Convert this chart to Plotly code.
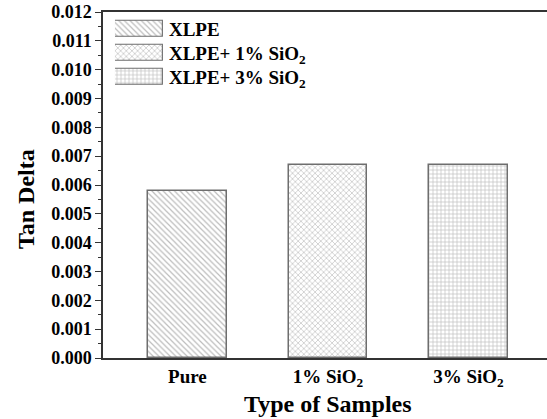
import plotly.graph_objects as go

# Dielectric loss (tan delta) of each sample type
categories = ["Pure", "1% SiO<sub>2</sub>", "3% SiO<sub>2</sub>"]
tan_delta = [0.0058, 0.0067, 0.0067]
legend_labels = ["XLPE", "XLPE+ 1% SiO<sub>2</sub>", "XLPE+ 3% SiO<sub>2</sub>"]
y_ticks = [i / 1000 for i in range(0, 13)]
y_ticklabels = [f"{v:.3f}" for v in y_ticks]

patterns = ["\\", "x", "+"]
pattern_sizes = [4, 4, 4]

SERIF = "Liberation Serif, Times New Roman, serif"
LINE = "#333333"
EDGE = "#6e6e6e"
HATCH = "#7a7a7a"

x_pos = list(range(len(categories)))
legend_pos = list(range(len(legend_labels)))

fig = go.Figure()

for i, (cat, val) in enumerate(zip(categories, tan_delta)):
    fig.add_trace(go.Bar(
        x=[x_pos[i]], y=[val], width=0.56,
        marker=dict(
            color="white",
            line=dict(color=EDGE, width=1.5),
            pattern=dict(shape=patterns[i], fgcolor=HATCH, bgcolor="white",
                         size=pattern_sizes[i], solidity=0.3),
        ),
        showlegend=False, hoverinfo="skip",
    ))

# Legend key drawn as an inset of patterned swatches
fig.add_trace(go.Bar(
    y=legend_pos, x=[1] * len(legend_labels), orientation="h",
    xaxis="x2", yaxis="y2", width=0.67,
    marker=dict(
        color="white",
        line=dict(color=EDGE, width=1.2),
        pattern=dict(shape=patterns, fgcolor=HATCH, bgcolor="white",
                     size=pattern_sizes, solidity=0.3),
    ),
    showlegend=False, hoverinfo="skip",
))

fig.update_layout(
    width=547, height=419,
    margin=dict(l=103, r=0, t=12, b=61),
    plot_bgcolor="white", paper_bgcolor="white",
    font=dict(family=SERIF, color="black"),
    bargap=0,
    xaxis=dict(
        range=[-0.601, 2.559],
        tickmode="array", tickvals=x_pos, ticktext=categories,
        tickfont=dict(family=SERIF, size=19, weight="bold", color="black"),
        showline=True, linecolor=LINE, linewidth=1.5, mirror=True,
        ticks="", showgrid=False, zeroline=False,
    ),
    yaxis=dict(
        range=[0, 0.012],
        tickmode="array", tickvals=y_ticks, ticktext=y_ticklabels,
        tickfont=dict(family=SERIF, size=18, weight="bold", color="black"),
        showline=True, linecolor=LINE, linewidth=1.5,
        ticks="outside", ticklen=6, tickwidth=1.2, tickcolor=LINE,
        minor=dict(dtick=0.0005, ticks="outside", ticklen=3, tickwidth=1, tickcolor=LINE),
        showgrid=False, zeroline=False,
    ),
    xaxis2=dict(
        domain=[0.027, 0.135], anchor="y2", range=[0, 1],
        visible=False, fixedrange=True,
    ),
    yaxis2=dict(
        domain=[0.777, 0.986], anchor="x2", side="right",
        range=[2.5, -0.5],
        tickmode="array", tickvals=legend_pos, ticktext=legend_labels,
        tickfont=dict(family=SERIF, size=19, weight="bold", color="black"),
        ticks="", showline=False, showgrid=False, zeroline=False,
        ticklabelstandoff=5, fixedrange=True,
    ),
    annotations=[
        dict(text="Type of Samples", x=1, xref="x", y=-0.132, yref="paper",
             showarrow=False, xanchor="center", yanchor="middle",
             font=dict(family=SERIF, size=24, weight="bold", color="black")),
        dict(text="Tan Delta", x=-0.172, xref="paper", y=0.0055, yref="y",
             textangle=-90, showarrow=False, xanchor="center", yanchor="middle",
             font=dict(family=SERIF, size=24, weight="bold", color="black")),
    ],
)

fig.write_html("out.html")
